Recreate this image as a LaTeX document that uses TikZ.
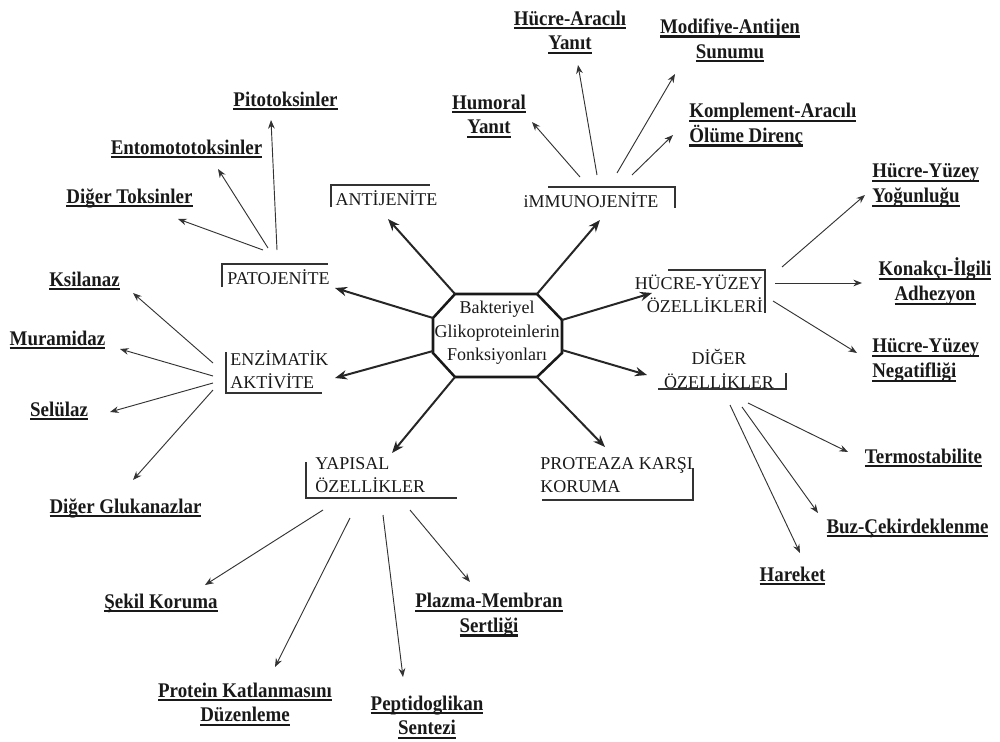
\documentclass[tikz,border=0pt]{standalone}
\usepackage{fontspec}
\setmainfont{Liberation Serif}
\usetikzlibrary{arrows.meta}
\newcommand\ulx[1]{\setbox0=\hbox{\scalebox{1}[1.1]{#1}}\leavevmode\rlap{\rule[-3.2pt]{\wd0}{1.7pt}}\box0}
\begin{document}
\begin{tikzpicture}[x=0.75pt,y=-0.75pt,
  cat/.style={font=\fontsize{13.5}{17.5}\selectfont, inner sep=0pt, align=center, text=black!90},
  leaf/.style={font=\bfseries\fontsize{14.2}{18.6}\selectfont, inner sep=0pt, align=center, text=black!90},
  main/.style={line width=1.5pt, draw=black!85, -{Stealth[length=9pt,width=7pt]}},
  sub/.style={line width=0.7pt, draw=black!80, -{Stealth[length=6.5pt,width=5pt]}},
  frame/.style={line width=1.1pt, draw=black!80},
  oct/.style={line width=1.9pt, draw=black!90, line join=miter}]
\useasboundingbox (0,0) rectangle (1000,742);

% centre
\draw[oct] (455,294) -- (537,294) -- (562,320) -- (562,353) -- (537,377) -- (455,377) -- (433,353) -- (433,318) -- cycle;
\node[cat, font=\fontsize{13.5}{17.6}\selectfont] (c) at (497,333) {Bakteriyel\\Glikoproteinlerin\\Fonksiyonları};
\coordinate (o1) at (455,294);
\coordinate (o2) at (537,294);
\coordinate (o3) at (562,320);
\coordinate (o4) at (562,350);
\coordinate (o5) at (537,377);
\coordinate (o6) at (455,377);
\coordinate (o7) at (433,351);
\coordinate (o8) at (433,318);

% categories
\node[cat] (anti) at (386.5,198) {ANTİJENİTE};
\node[cat] (pato) at (278.5,277) {PATOJENİTE};
\node[cat] (immu) at (591,200) {iMMUNOJENİTE};
\node[cat, align=right, anchor=east] (huc) at (763,293.5) {HÜCRE-YÜZEY\\ÖZELLİKLERİ};
\node[cat] (dig) at (719,369) {DİĞER\\ÖZELLİKLER};
\node[cat, align=left, anchor=west] (enz) at (230,370) {ENZİMATİK\\AKTİVİTE};
\node[cat, align=left, anchor=west] (yap) at (315,475) {YAPISAL\\ÖZELLİKLER};
\node[cat, align=left, anchor=west] (prot) at (540,475) {PROTEAZA KARŞI\\KORUMA};

% frames
\draw[frame] (331,207) -- (331,185) -- (430,185);
\draw[frame] (222,287) -- (222,264) -- (328,264);
\draw[frame] (548,187) -- (675,187) -- (675,208);
\draw[frame] (668,270) -- (765,270) -- (765,313);
\draw[frame] (658,389) -- (786,389) -- (786,373);
\draw[frame] (226,352) -- (226,393) -- (322,393);
\draw[frame] (306,462) -- (306,498) -- (457,498);
\draw[frame] (542,500) -- (693,500) -- (693,468);

% main arrow tips
\coordinate (t-anti) at (388,219);
\coordinate (t-pato) at (335,288);
\coordinate (t-enz) at (335,378);
\coordinate (t-yap) at (392,453);
\coordinate (t-prot) at (605,447);
\coordinate (t-dig) at (647,375);
\coordinate (t-huc) at (652,293);
\coordinate (t-immu) at (600,220);
\draw[main] (o1) -- (t-anti);
\draw[main] (o8) -- (t-pato);
\draw[main] (o7) -- (t-enz);
\draw[main] (o6) -- (t-yap);
\draw[main] (o5) -- (t-prot);
\draw[main] (o4) -- (t-dig);
\draw[main] (o3) -- (t-huc);
\draw[main] (o2) -- (t-immu);

% leaves
\node[leaf] (pito) at (285.5,101) {\ulx{Pitotoksinler}};
\node[leaf] (ento) at (186.5,149) {\ulx{Entomototoksinler}};
\node[leaf] (dtok) at (129.5,198) {\ulx{Diğer Toksinler}};
\node[leaf] (hum) at (489,116.5) {\ulx{Humoral}\\\ulx{Yanıt}};
\node[leaf] (har) at (570,32.5) {\ulx{Hücre-Aracılı}\\\ulx{Yanıt}};
\node[leaf] (mod) at (730,40.5) {\ulx{Modifiye-Antijen}\\\ulx{Sunumu}};
\node[leaf, align=left, anchor=west] (kom) at (689,125) {\ulx{Komplement-Aracılı}\\\ulx{Ölüme Direnç}};
\node[leaf, align=left, anchor=west] (hyy) at (872,185.5) {\ulx{Hücre-Yüzey}\\\ulx{Yoğunluğu}};
\node[leaf] (kon) at (935,281.5) {\ulx{Konakçı-İlgili}\\\ulx{Adhezyon}};
\node[leaf, align=left, anchor=west] (hyn) at (872,360.5) {\ulx{Hücre-Yüzey}\\\ulx{Negatifliği}};
\node[leaf] (ter) at (923.5,458) {\ulx{Termostabilite}};
\node[leaf] (buz) at (907.5,528) {\ulx{Buz-Çekirdeklenme}};
\node[leaf] (hark) at (792.5,576) {\ulx{Hareket}};
\node[leaf] (ksi) at (84.5,281) {\ulx{Ksilanaz}};
\node[leaf] (mur) at (57.5,340) {\ulx{Muramidaz}};
\node[leaf] (sel) at (59,411) {\ulx{Selülaz}};
\node[leaf] (dglu) at (125.5,508) {\ulx{Diğer Glukanazlar}};
\node[leaf] (sek) at (161,603) {\ulx{Şekil Koruma}};
\node[leaf] (pkd) at (245,704.5) {\ulx{Protein Katlanmasını}\\\ulx{Düzenleme}};
\node[leaf] (pep) at (427,717.5) {\ulx{Peptidoglikan}\\\ulx{Sentezi}};
\node[leaf] (pla) at (489,615) {\ulx{Plazma-Membran}\\\ulx{Sertliği}};

% sub arrows: start / tip coordinates
\coordinate (p1) at (277,250); \coordinate (p1t) at (271,120);
\coordinate (p2) at (268,248); \coordinate (p2t) at (218,169);
\coordinate (p3) at (263,250); \coordinate (p3t) at (178,219);
\draw[sub] (p1) -- (p1t);
\draw[sub] (p2) -- (p2t);
\draw[sub] (p3) -- (p3t);

\coordinate (i1) at (580,177); \coordinate (i1t) at (532,122);
\coordinate (i2) at (597,175); \coordinate (i2t) at (578,65);
\coordinate (i3) at (617,173); \coordinate (i3t) at (675,74);
\coordinate (i4) at (632,175); \coordinate (i4t) at (673,135);
\draw[sub] (i1) -- (i1t);
\draw[sub] (i2) -- (i2t);
\draw[sub] (i3) -- (i3t);
\draw[sub] (i4) -- (i4t);

\coordinate (h1) at (782,267); \coordinate (h1t) at (865,195);
\coordinate (h2) at (775,283); \coordinate (h2t) at (862,283);
\coordinate (h3) at (773,301); \coordinate (h3t) at (857,353);
\draw[sub] (h1) -- (h1t);
\draw[sub] (h2) -- (h2t);
\draw[sub] (h3) -- (h3t);

\coordinate (d1) at (748,403); \coordinate (d1t) at (848,452);
\coordinate (d2) at (742,407); \coordinate (d2t) at (818,513);
\coordinate (d3) at (730,405); \coordinate (d3t) at (800,553);
\draw[sub] (d1) -- (d1t);
\draw[sub] (d2) -- (d2t);
\draw[sub] (d3) -- (d3t);

\coordinate (e1) at (213,363); \coordinate (e1t) at (133,293);
\coordinate (e2) at (213,376); \coordinate (e2t) at (120,349);
\coordinate (e3) at (213,383); \coordinate (e3t) at (110,412);
\coordinate (e4) at (213,390); \coordinate (e4t) at (133,480);
\draw[sub] (e1) -- (e1t);
\draw[sub] (e2) -- (e2t);
\draw[sub] (e3) -- (e3t);
\draw[sub] (e4) -- (e4t);

\coordinate (y1) at (323,510); \coordinate (y1t) at (205,585);
\coordinate (y2) at (350,518); \coordinate (y2t) at (275,667);
\coordinate (y3) at (383,515); \coordinate (y3t) at (403,677);
\coordinate (y4) at (410,510); \coordinate (y4t) at (470,582);
\draw[sub] (y1) -- (y1t);
\draw[sub] (y2) -- (y2t);
\draw[sub] (y3) -- (y3t);
\draw[sub] (y4) -- (y4t);
\end{tikzpicture}
\end{document}
